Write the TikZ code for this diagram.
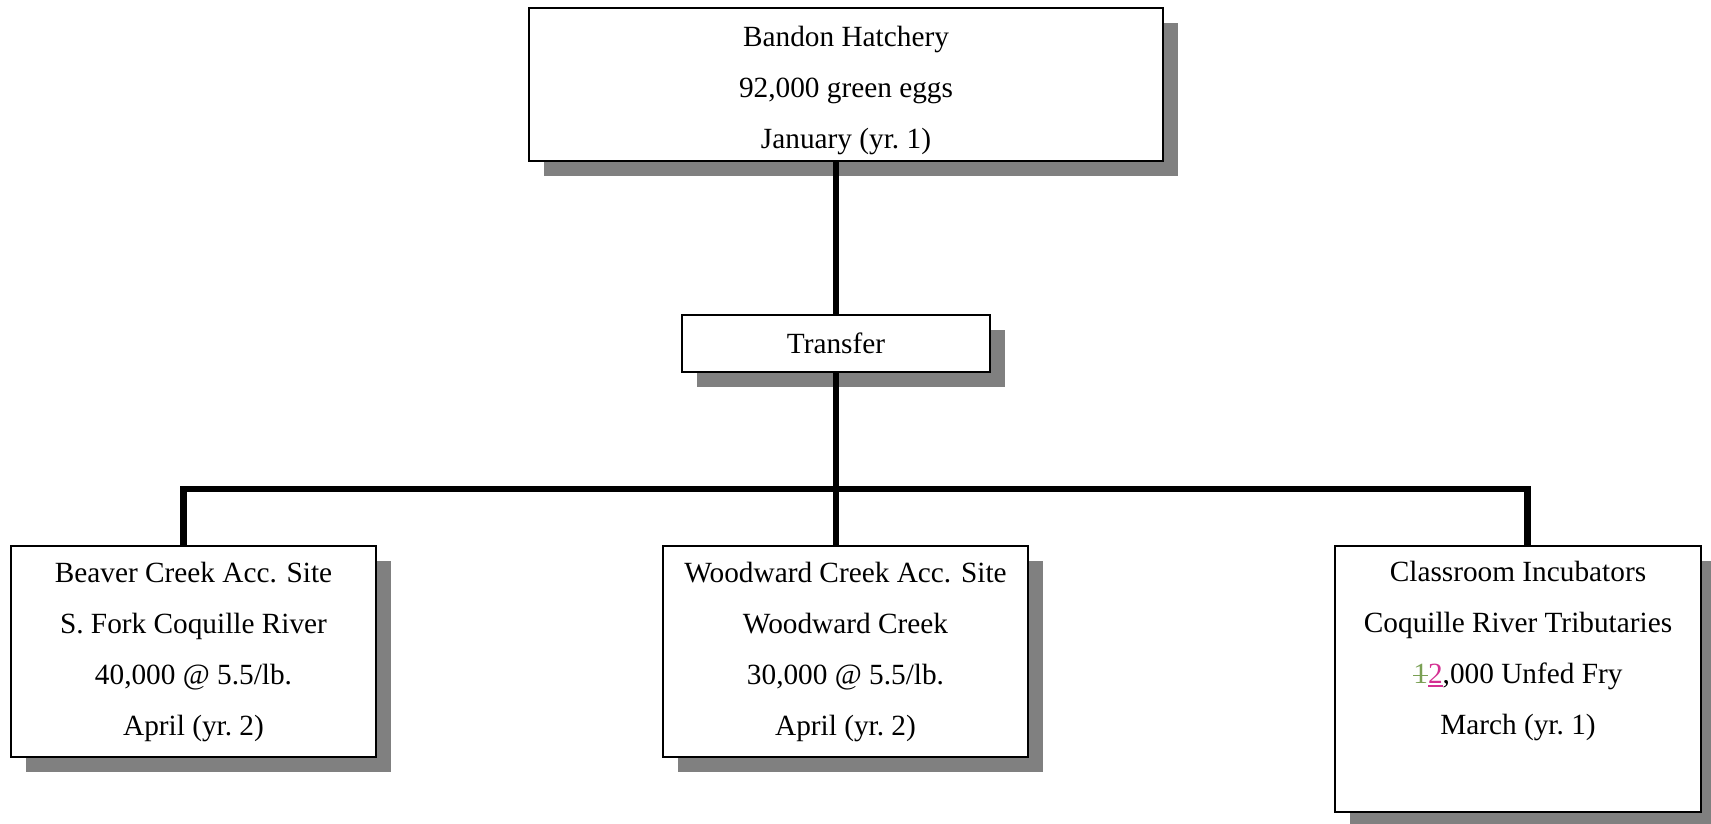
\documentclass[tikz,border=0pt]{standalone}
\usepackage{fontspec}
\setmainfont{Liberation Serif}
\newcommand{\mystrike}[1]{\setbox0\hbox{#1}\rlap{#1}\rule[0.24em]{\wd0}{1.6pt}}
\newcommand{\myuline}[1]{\setbox0\hbox{#1}\rlap{#1}\rule[-0.12em]{\wd0}{1.6pt}}
\usetikzlibrary{shadows}
\definecolor{shadowgray}{RGB}{128,128,128}
\definecolor{delgreen}{RGB}{122,160,84}
\definecolor{inspink}{RGB}{212,48,146}
\begin{document}
\begin{tikzpicture}[x=1pt,y=-1pt,
  box/.style={draw=black, line width=2.5pt, fill=white, inner sep=0pt, align=center,
    font=\fontsize{29.3}{51}\selectfont,
    drop shadow={shadow xshift=15pt, shadow yshift=-15pt, fill=shadowgray, opacity=1}},
  txt/.style={inner sep=0pt, align=center, font=\fontsize{29.3}{51}\selectfont},
  conn/.style={line width=6.5pt, line join=miter}]
\useasboundingbox (0,0) rectangle (1711,824);
\fill[white] (0,0) rectangle (1711,824);
\node[box, minimum width=634, minimum height=153] (top) at (846,84.5) {};
\node[txt] (toptxt) at (846,90)
  {Bandon Hatchery\\92,000 green eggs\\January (yr.~1)};
\node[box, minimum width=308, minimum height=57] (transfer) at (836,343.5) {Transfer};
\node[box, minimum width=365, minimum height=211] (beaver) at (193.5,651.5)
  {Beaver Creek Acc. Site\\S. Fork Coquille River\\40,000 @ 5.5/lb.\\April (yr.~2)};
\node[box, minimum width=365, minimum height=211] (wood) at (845.5,651.5)
  {Woodward Creek Acc. Site\\Woodward Creek\\30,000 @ 5.5/lb.\\April (yr.~2)};
\node[box, minimum width=366, minimum height=266] (class) at (1518,679) {};
\node[txt] (classtxt) at (1518,651)
  {Classroom Incubators\\Coquille River Tributaries\\\textcolor{delgreen}{\mystrike{1}}\textcolor{inspink}{\myuline{2}},000 Unfed Fry\\March (yr.~1)};
\coordinate (jL) at (183.5,489);
\coordinate (jR) at (1527.5,489);
\draw[conn] (top.south -| transfer.south) -- (transfer.north);
\draw[conn] (transfer.south) -- (transfer.south |- wood.north);
\draw[conn] (jL |- beaver.north) -- (jL) -- (jR) -- (jR |- class.north);
\end{tikzpicture}
\end{document}
